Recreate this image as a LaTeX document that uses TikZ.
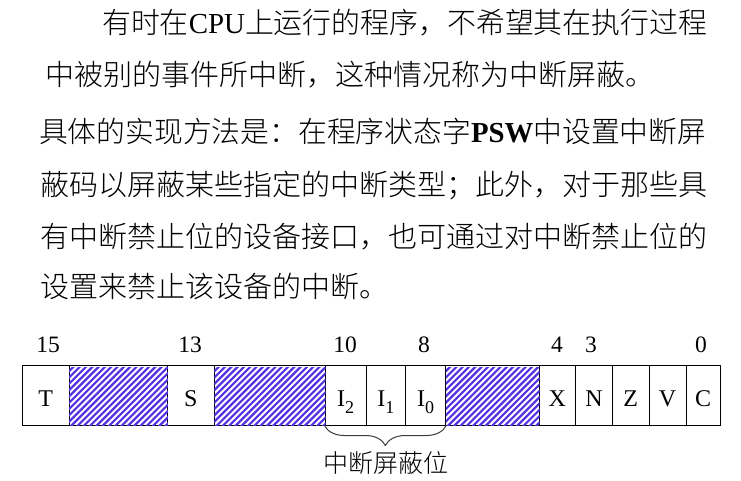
\documentclass[tikz,border=0pt]{standalone}
\usepackage{fontspec}
\usepackage{graphicx}
\setmainfont{Liberation Serif}
\newfontfamily\cjk{Noto Sans CJK SC Light}
\usetikzlibrary{decorations.pathreplacing}
\definecolor{hatchblue}{RGB}{84,52,226}
\definecolor{bracegray}{RGB}{60,60,60}
\begin{document}
\begin{tikzpicture}[x=1pt,y=-1pt,
  txt/.style={anchor=base west, inner sep=0, font=\fontsize{29}{29}\selectfont},
  cell/.style={draw, line width=1, minimum height=60, inner sep=0, text height=22, text depth=0, font=\fontsize{24}{24}\selectfont},
  num/.style={anchor=base, inner sep=0, font=\fontsize{23.5}{23.5}\selectfont},
  hatchline/.style={draw=hatchblue, line width=2.2},
  bracestyle/.style={draw=bracegray, line width=1, decorate, decoration={brace, amplitude=20, mirror}},
  lbl/.style={anchor=base, inner sep=0, font=\fontsize{25}{25}\selectfont\cjk}]
\useasboundingbox (0,0) rectangle (741,480);
\fill[white] (0,0) rectangle (741,480);
% paragraph text
\node[txt] (l1) at (102,33) {\resizebox{605pt}{\height}{{\cjk 有时在}CPU{\cjk 上运行的程序，不希望其在执行过程}}};
\node[txt] (l2) at (45,85) {\cjk 中被别的事件所中断，这种情况称为中断屏蔽。};
\node[txt] (l3) at (39,142) {\resizebox{667pt}{\height}{{\cjk 具体的实现方法是：在程序状态字}{\bfseries PSW}{\cjk 中设置中断屏}}};
\node[txt] (l4) at (40,195) {\cjk 蔽码以屏蔽某些指定的中断类型；此外，对于那些具};
\node[txt] (l5) at (40,247) {\cjk 有中断禁止位的设备接口，也可通过对中断禁止位的};
\node[txt] (l6) at (40,297) {\cjk 设置来禁止该设备的中断。};
% register cells
\node[cell, minimum width=46.7] (T) at (45.65,395) {T};
\node[cell, minimum width=98.3] (H1) at (118.15,395) {};
\node[cell, minimum width=47] (S) at (190.8,395) {S};
\node[cell, minimum width=110.7] (H2) at (269.65,395) {};
\node[cell, minimum width=41] (I2) at (345.5,395) {I\raisebox{-7pt}{\fontsize{18}{18}\selectfont 2}};
\node[cell, minimum width=39.7] (I1) at (385.85,395) {I\raisebox{-7pt}{\fontsize{18}{18}\selectfont 1}};
\node[cell, minimum width=40] (I0) at (425.7,395) {I\raisebox{-7pt}{\fontsize{18}{18}\selectfont 0}};
\node[cell, minimum width=93.3] (H3) at (492.35,395) {};
\node[cell, minimum width=36.7] (X) at (557.35,395) {X};
\node[cell, minimum width=36.6] (N) at (594,395) {N};
\node[cell, minimum width=37] (Z) at (630.8,395) {Z};
\node[cell, minimum width=36.7] (V) at (667.65,395) {V};
\node[cell, minimum width=34] (C) at (703,395) {C};
% hatching
\foreach \h in {H1,H2,H3}{
  \begin{scope}
    \clip (\h.north west) ++(0.6,2.5) rectangle (\h.south east) ++(-0.6,-2.5);
    \foreach \i in {-12,...,20}{
      \draw[hatchline] (\h.south west) ++(\i*6.3,3) -- ++(75,-75);
    }
  \end{scope}
}
% bit numbers
\node[num] (b15) at (48,352) {15};
\node[num] (b13) at (190,352) {13};
\node[num] (b10) at (345,352) {10};
\node[num] (b8) at (424,352) {8};
\node[num] (b4) at (557,352) {4};
\node[num] (b3) at (591,352) {3};
\node[num] (b0) at (701,352) {0};
% brace and label
\draw[bracestyle] (I2.south west) -- (I0.south east);
\node[lbl] (mask) at (386,472) {中断屏蔽位};
\end{tikzpicture}
\end{document}
